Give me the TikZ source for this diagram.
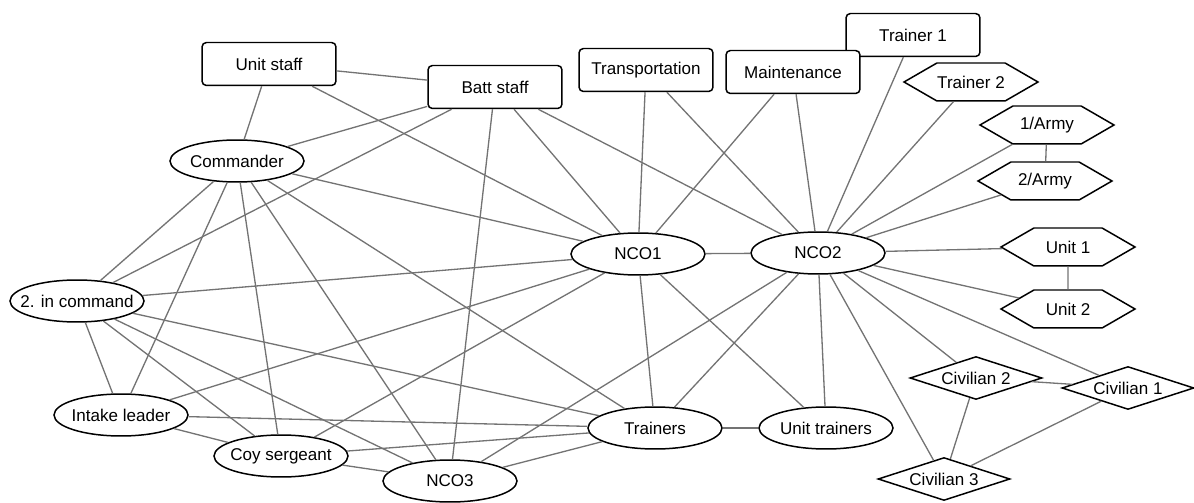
\documentclass[tikz,border=0pt]{standalone}
\usepackage{fontspec}
\setmainfont{Liberation Sans}
\usetikzlibrary{shapes.geometric,shapes.symbols}

\begin{document}
\begin{tikzpicture}[x=0.02cm,y=-0.02cm,
 every node/.style={font=\fontsize{9.7}{11}\selectfont,draw,fill=white,line width=0.85pt},
 rbox/.style={rectangle,rounded corners=2.5pt,minimum width=2.68cm,minimum height=0.86cm},
 oval/.style={ellipse,inner xsep=-10pt,minimum width=2.68cm,minimum height=0.84cm},
 hexa/.style={signal,signal to=east and west,signal pointer angle=60,inner xsep=-1pt,minimum width=2.68cm,minimum height=0.76cm},
 rhomb/.style={diamond,aspect=3,inner sep=0pt,minimum width=2.64cm,minimum height=0.86cm},
 tie/.style={draw=black!55,line width=0.75pt}]
 \useasboundingbox (0,0) rectangle (1194,503);
 \node[rbox] (unitstaff) at (269,64) {Unit staff};
 \node[rbox] (battstaff) at (495,87) {Batt staff};
 \node[rbox] (transport) at (646,70) {Transportation};
 \node[rbox] (trainerA) at (913,35) {Trainer 1};
 \node[rbox] (maint) at (793,72) {Maintenance};
 \node[hexa] (trainerB) at (971,82) {Trainer 2};
 \node[hexa] (armyA) at (1047,125) {1/Army};
 \node[hexa] (armyB) at (1045,181) {2/Army};
 \node[hexa] (unitA) at (1068,247) {Unit 1};
 \node[hexa] (unitB) at (1068,309) {Unit 2};
 \node[oval] (cmdr) at (237,161) {Commander};
 \node[oval] (nco1) at (638,254) {NCO1};
 \node[oval] (nco2) at (818,253) {NCO2};
 \node[oval] (second) at (77,301) {2. in command};
 \node[oval] (intake) at (121,415) {Intake leader};
 \node[oval] (coy) at (281,456) {Coy sergeant};
 \node[oval] (nco3) at (450,481) {NCO3};
 \node[oval] (trainers) at (655,428) {Trainers};
 \node[oval] (utrainers) at (826,428) {Unit trainers};
 \node[rhomb] (civB) at (976,378) {Civilian 2};
 \node[rhomb] (civA) at (1128,388) {Civilian 1};
 \node[rhomb] (civC) at (944,479) {Civilian 3};
 \foreach \a/\b in {unitstaff/battstaff,unitstaff/cmdr,unitstaff/nco1,
   battstaff/cmdr,battstaff/second,battstaff/nco3,battstaff/nco1,battstaff/nco2,
   cmdr/second,cmdr/intake,cmdr/coy,cmdr/nco3,cmdr/trainers,cmdr/nco1,
   second/nco1,second/trainers,second/coy,second/nco3,second/intake,
   intake/nco1,intake/trainers,intake/coy,
   coy/nco1,coy/trainers,coy/nco3,
   nco3/trainers,nco3/nco2,
   trainers/nco1,trainers/nco2,trainers/utrainers,
   nco1/utrainers,nco1/nco2,nco1/transport,nco1/maint,
   nco2/transport,nco2/maint,nco2/trainerA,nco2/trainerB,nco2/armyA,nco2/armyB,
   armyA/armyB,nco2/unitA,nco2/unitB,unitA/unitB,
   nco2/civB,nco2/civA,nco2/civC,nco2/utrainers,
   civB/civA,civB/civC,civA/civC}
   \draw[tie] (\a) -- (\b);
\end{tikzpicture}
\end{document}
